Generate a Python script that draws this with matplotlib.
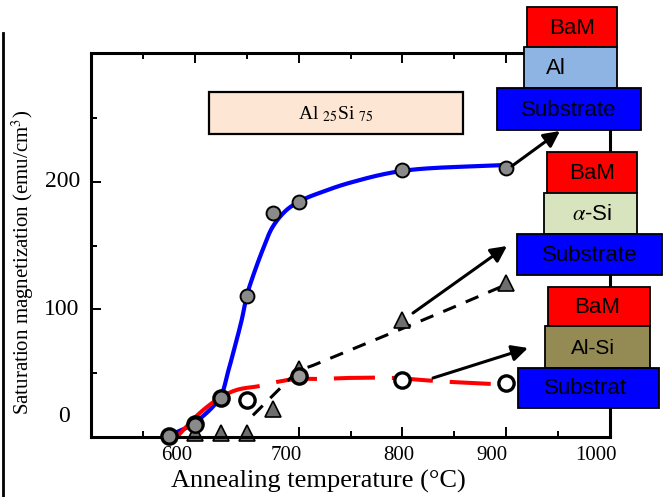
import numpy as np
import matplotlib
matplotlib.use('Agg')
import matplotlib.pyplot as plt
from matplotlib.patches import Rectangle, FancyArrowPatch
from matplotlib.lines import Line2D
import matplotlib.transforms as mtransforms

plt.rcParams['mathtext.fontset'] = 'stix'

W, H = 667, 497

# ---------------- data ----------------
# Al / BaM (gray filled circles)
temp_al = [575, 600, 625, 650, 675, 700, 800, 900]
ms_al = [0.8, 9.4, 30.6, 110.6, 175.7, 184, 209, 211]
# alpha-Si / BaM (triangles)
temp_si = [600, 625, 650, 675, 700, 800, 900]
ms_si = [3, 3, 3, 22, 53, 92, 121]
# Al-Si / BaM (open circles)
temp_alsi = [575, 600, 625, 650, 700, 800, 900]
ms_alsi = [0.8, 10, 30.6, 29, 48, 45, 42]

# guide curves
fit_al_x = [574, 598.1, 624, 631.7, 638.5, 645.2, 650, 655.8, 665.4, 675, 688.5, 703.8, 723.1, 749, 800, 900]
fit_al_y = [0.8, 10.2, 30.6, 50.2, 70.6, 91.8, 110.6, 125.5, 146.7, 164.7, 178, 185.9, 192.2, 199.2, 208.6, 213.3]
fit_alsi_x = [582.7, 604.8, 624, 640.4, 662.5, 678.8, 698, 718.3, 749, 790.4, 830.8, 848, 886.5, 893]
fit_alsi_y = [0, 18.8, 30.6, 36.9, 40, 43.1, 45.5, 45.5, 46.3, 46.3, 43.9, 43.1, 41.6, 41.6]
fit_si_x = [656, 685, 700, 715, 750, 800, 850, 900]
fit_si_y = [17, 40.5, 51.5, 56.5, 68.3, 85, 102, 119.5]

xtick_vals = [600, 700, 800, 900, 1000]
xtick_labels = ['600', '700', '800', '900', '1000']
ytick_vals = [0, 100, 200]
ytick_labels = ['0', '100', '200']

x_label = 'Annealing temperature (°C)'
y_label = 'Saturation magnetization (emu/cm$^3$)'

SX, SY = 1.04, 1.275  # approx pixels per data unit (used only for smoothing geometry)


def smooth(xs, ys, n=30, alpha=0.5):
    P = np.column_stack([np.asarray(xs, float) * SX, np.asarray(ys, float) * SY])
    P = np.vstack([2 * P[0] - P[1], P, 2 * P[-1] - P[-2]])
    out = []
    for i in range(1, len(P) - 2):
        p0, p1, p2, p3 = P[i - 1], P[i], P[i + 1], P[i + 2]
        t0 = 0.0
        t1 = t0 + np.linalg.norm(p1 - p0) ** alpha
        t2 = t1 + np.linalg.norm(p2 - p1) ** alpha
        t3 = t2 + np.linalg.norm(p3 - p2) ** alpha
        t = np.linspace(t1, t2, n, endpoint=False)[:, None]
        A1 = (t1 - t) / (t1 - t0) * p0 + (t - t0) / (t1 - t0) * p1
        A2 = (t2 - t) / (t2 - t1) * p1 + (t - t1) / (t2 - t1) * p2
        A3 = (t3 - t) / (t3 - t2) * p2 + (t - t2) / (t3 - t2) * p3
        B1 = (t2 - t) / (t2 - t0) * A1 + (t - t0) / (t2 - t0) * A2
        B2 = (t3 - t) / (t3 - t1) * A2 + (t - t1) / (t3 - t1) * A3
        out.append((t2 - t) / (t2 - t1) * B1 + (t - t1) / (t2 - t1) * B2)
    out.append(P[-2][None, :])
    c = np.vstack(out)
    return c[:, 0] / SX, c[:, 1] / SY


SERIF = 'Liberation Serif'
SANS = 'Liberation Sans'

fig = plt.figure(figsize=(W / 100, H / 100), dpi=100)
ax = fig.add_axes([91 / W, 1 - 437 / H, 519 / W, 384 / H])
ax.set_xlim(500, 1000)
ax.set_ylim(0, 301)

# curves
bx, by = smooth(fit_al_x, fit_al_y)
ax.plot(bx, by, color='#0000ff', lw=3.0, zorder=2, solid_capstyle='butt')

rx, ry = smooth(fit_alsi_x, fit_alsi_y)
k = np.searchsorted(rx, 662.5)
ax.plot(rx[:k + 1], ry[:k + 1], color='#ff0000', lw=2.9, zorder=2, solid_capstyle='butt')
ax.plot(rx[k:], ry[k:], color='#ff0000', lw=2.9, zorder=2,
        linestyle=(10.2, (10.2, 4.2)), dash_capstyle='butt')

sx, sy = smooth(fit_si_x, fit_si_y)
ax.plot(sx, sy, color='black', lw=2.2, zorder=2, linestyle=(0, (4.5, 3.5)),
        dash_capstyle='butt')

# markers
open_faces = ['white', 'white', 'white', 'white', '#9a9a9a', 'white', 'white']
for xv, yv, fc in zip(temp_alsi, ms_alsi, open_faces):
    ax.plot([xv], [yv], 'o', ms=11, mfc=fc, mec='black', mew=2.4, zorder=3, clip_on=False)
ax.plot(temp_si, ms_si, '^', ms=11, mfc='#6e6e6e', mec='black', mew=1.2, zorder=2.5,
        linestyle='none', clip_on=False)
ax.plot(temp_al, ms_al, 'o', ms=10, mfc='#8a8a8a', mec='black', mew=1.4, zorder=4,
        linestyle='none', clip_on=False)

# axes styling
for s in ax.spines.values():
    s.set_linewidth(2.2)
ax.set_xticks(xtick_vals)
ax.set_xticks([550, 650, 750, 850, 950], minor=True)
ax.set_yticks(ytick_vals)
ax.set_yticks([50, 150, 250], minor=True)
ax.tick_params(which='both', direction='in', top=True, right=True, width=1.4,
               labelbottom=False, labelleft=False)
ax.tick_params(which='major', length=7)
ax.tick_params(which='minor', length=4)

# tick labels (slightly offset as in the original)
xoff = [-18, -12, -4, -14, -14]
for v, lab, dx in zip(xtick_vals, xtick_labels, xoff):
    tr = ax.get_xaxis_transform() + mtransforms.ScaledTranslation(dx / 100, -9 / 100, fig.dpi_scale_trans)
    ax.text(v, 0, lab, transform=tr, ha='center', va='top', fontsize=15, family=SERIF, clip_on=False)
yoff = [(-10, 21), (-1, 0), (0, 0)]
for v, lab, (dx, dy) in zip(ytick_vals, ytick_labels, yoff):
    tr = ax.get_yaxis_transform() + mtransforms.ScaledTranslation((dx - 11) / 100, dy / 100, fig.dpi_scale_trans)
    ax.text(0, v, lab, transform=tr, ha='right', va='center', fontsize=17, family=SERIF, clip_on=False)


def fx(x):
    return x / W


def fy(y):
    return 1 - y / H


fig.text(fx(318), fy(481), x_label, ha='center', va='center', fontsize=19, family=SERIF)
fig.text(fx(23), fy(262), y_label, ha='center', va='center', rotation=90, fontsize=15, family=SERIF)

# left vertical line artifact
fig.add_artist(Line2D([fx(3), fx(3)], [fy(33), fy(497)], color='black', lw=2.0))

# composition label
fig.add_artist(Rectangle((fx(209), fy(134)), (463 - 209) / W, (134 - 92) / H,
                         transform=fig.transFigure, facecolor='#fde6d4', edgecolor='black', lw=1.6))
fig.text(fx(336), fy(114), r'Al $_{25}$Si $_{75}$', ha='center', va='center', fontsize=14, family=SERIF)

# layer stacks
boxes = [
    (527, 7, 617, 47, '#ff0000', 'BaM', 0, 16),
    (524, 47, 617, 88, '#8db4e2', 'Al', -15, 16),
    (497, 88, 641, 130, '#0000ff', 'Substrate', 0, 16),
    (547, 152, 637, 193, '#ff0000', 'BaM', 0, 16),
    (544, 193, 637, 234, '#d7e4bd', r'$\alpha$-Si', 2, 16),
    (517, 234, 662, 275, '#0000ff', 'Substrate', 0, 16),
    (548, 287, 650, 326, '#ff0000', 'BaM', -2, 16),
    (545, 326, 650, 368, '#948a54', 'Al-Si', -5, 15),
    (518, 368, 659, 408, '#0000ff', 'Substrat', -3, 16),
]
for x0, y0, x1, y1, col, lab, dx, fs in boxes:
    fig.add_artist(Rectangle((fx(x0), fy(y1)), (x1 - x0) / W, (y1 - y0) / H,
                             transform=fig.transFigure, facecolor=col, edgecolor='black', lw=1.3,
                             zorder=5))
    fig.text(fx((x0 + x1) / 2 + dx), fy((y0 + y1) / 2 + 1), lab, ha='center', va='center',
             fontsize=fs, family=SANS, color='black', zorder=6)

# arrows
arrows = [((512, 166), (560, 131)), ((413, 313), (507, 246)), ((433, 378), (528, 348))]
for (x0, y0), (x1, y1) in arrows:
    fig.add_artist(FancyArrowPatch((fx(x0), fy(y0)), (fx(x1), fy(y1)), transform=fig.transFigure,
                                   arrowstyle='-|>', mutation_scale=24, lw=2.2, color='black',
                                   shrinkA=0, shrinkB=0, zorder=6))

fig.savefig('out.png', dpi=100)
